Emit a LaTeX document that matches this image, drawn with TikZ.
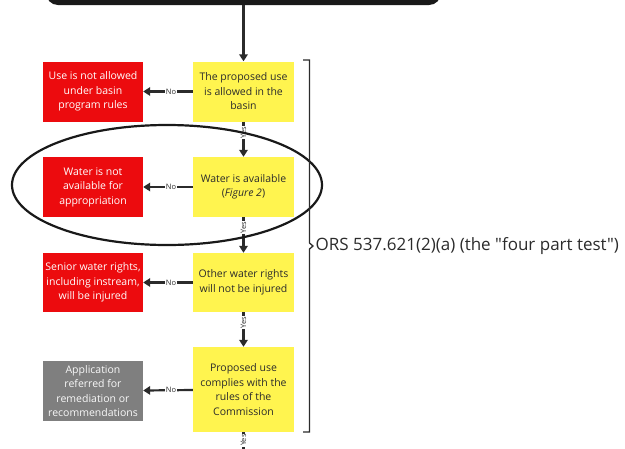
\documentclass[tikz,border=0pt]{standalone}
\usepackage{fontspec}
\setmainfont{Open Sans}
% same face without TeX quote mapping, so " stays a straight quote
\newfontfamily\lawfont{Open Sans}
\usetikzlibrary{arrows.meta,shapes.geometric}

\definecolor{testyellow}{HTML}{FFF44F}
\definecolor{failred}{HTML}{EC0B0E}
\definecolor{refergray}{HTML}{7F7F7F}
\definecolor{ink}{HTML}{2B2B2B}

\begin{document}
\begin{tikzpicture}[x=1pt,y=-1pt,
  boxtext/.style={font=\fontsize{10.5}{14.5}\selectfont, align=center, inner sep=0pt, minimum width=101pt},
  test/.style={boxtext, fill=testyellow, text=ink},
  fail/.style={boxtext, fill=failred, text=white, minimum width=100pt},
  refer/.style={boxtext, fill=refergray, text=white!95!gray, minimum width=100pt},
  flow/.style={draw=ink, line width=2.2pt, -{Triangle[length=7pt,width=8.5pt]}},
  lbl/.style={fill=white, text=ink, inner sep=0.6pt, font=\fontsize{7.5}{7.5}\selectfont},
]
\useasboundingbox (0,0) rectangle (625,448);
\clip (0,0) rectangle (625,448);

% start box running off the top edge
\node[fill=black!90, rounded corners=12pt, minimum width=395pt, minimum height=70pt, inner sep=0pt] (start) at (243.5,-30) {};

% the four tests
\node[test, minimum height=60pt] (t1) at (243.5,91.5) {The proposed use\\is allowed in the\\basin};
\node[test, minimum height=60pt] (t2) at (243.5,187) {Water is available\\(\textit{Figure 2})};
\node[test, minimum height=59pt] (t3) at (243.5,282.5) {Other water rights\\will not be injured};
\node[test, minimum height=85pt] (t4) at (243.5,389.5) {Proposed use\\complies with the\\rules of the\\Commission};

% outcomes when a test fails
\node[fail, minimum height=60pt] (f1) at (93,91.5) {Use is not allowed\\under basin\\program rules};
\node[fail, minimum height=60pt] (f2) at (93,187) {Water is not\\available for\\appropriation};
\node[fail, minimum height=59pt] (f3) at (93,282.5) {Senior water rights,\\including instream,\\will be injured};
\node[refer, minimum height=60pt] (f4) at (93,391) {Application\\referred for\\remediation or\\recommendations};

\coordinate (next) at (243.5,470);

% connectors
\draw[flow] (start.south) -- (t1.north);
\draw[flow] (t1) -- node[lbl, pos=.3, rotate=90] {Yes} (t2);
\draw[flow] (t2) -- node[lbl, pos=.3, rotate=90] {Yes} (t3);
\draw[flow] (t3) -- node[lbl, pos=.3, rotate=90] {Yes} (t4);
\draw[flow] (t4) -- node[lbl, pos=.21, rotate=90] {Yes} (next);

\draw[flow] (t1) -- node[lbl, pos=.44] {No} (f1);
\draw[flow] (t2) -- node[lbl, pos=.44] {No} (f2);
\draw[flow] (t3) -- node[lbl, pos=.44] {No} (f3);
\draw[flow] (t4) -- node[lbl, pos=.44] {No} (f4);

% emphasis ring around the water availability test
\node[draw=black!90, line width=2.2pt, ellipse, minimum width=310pt, minimum height=120pt, inner sep=0pt] (ring) at (167,185) {};

% brace grouping the four tests
\draw[ink, line width=1.3pt, line join=miter]
  (303,60) -- (309.5,60) -- (309.5,243) -- (313,246) -- (309.5,249) -- (309.5,432) -- (303,432);
\node[anchor=west, text=ink, font=\lawfont\fontsize{17}{20}\selectfont, inner sep=0pt] (law) at (315.5,246) {ORS 537.621(2)(a) (the "four part test")};
\end{tikzpicture}
\end{document}
